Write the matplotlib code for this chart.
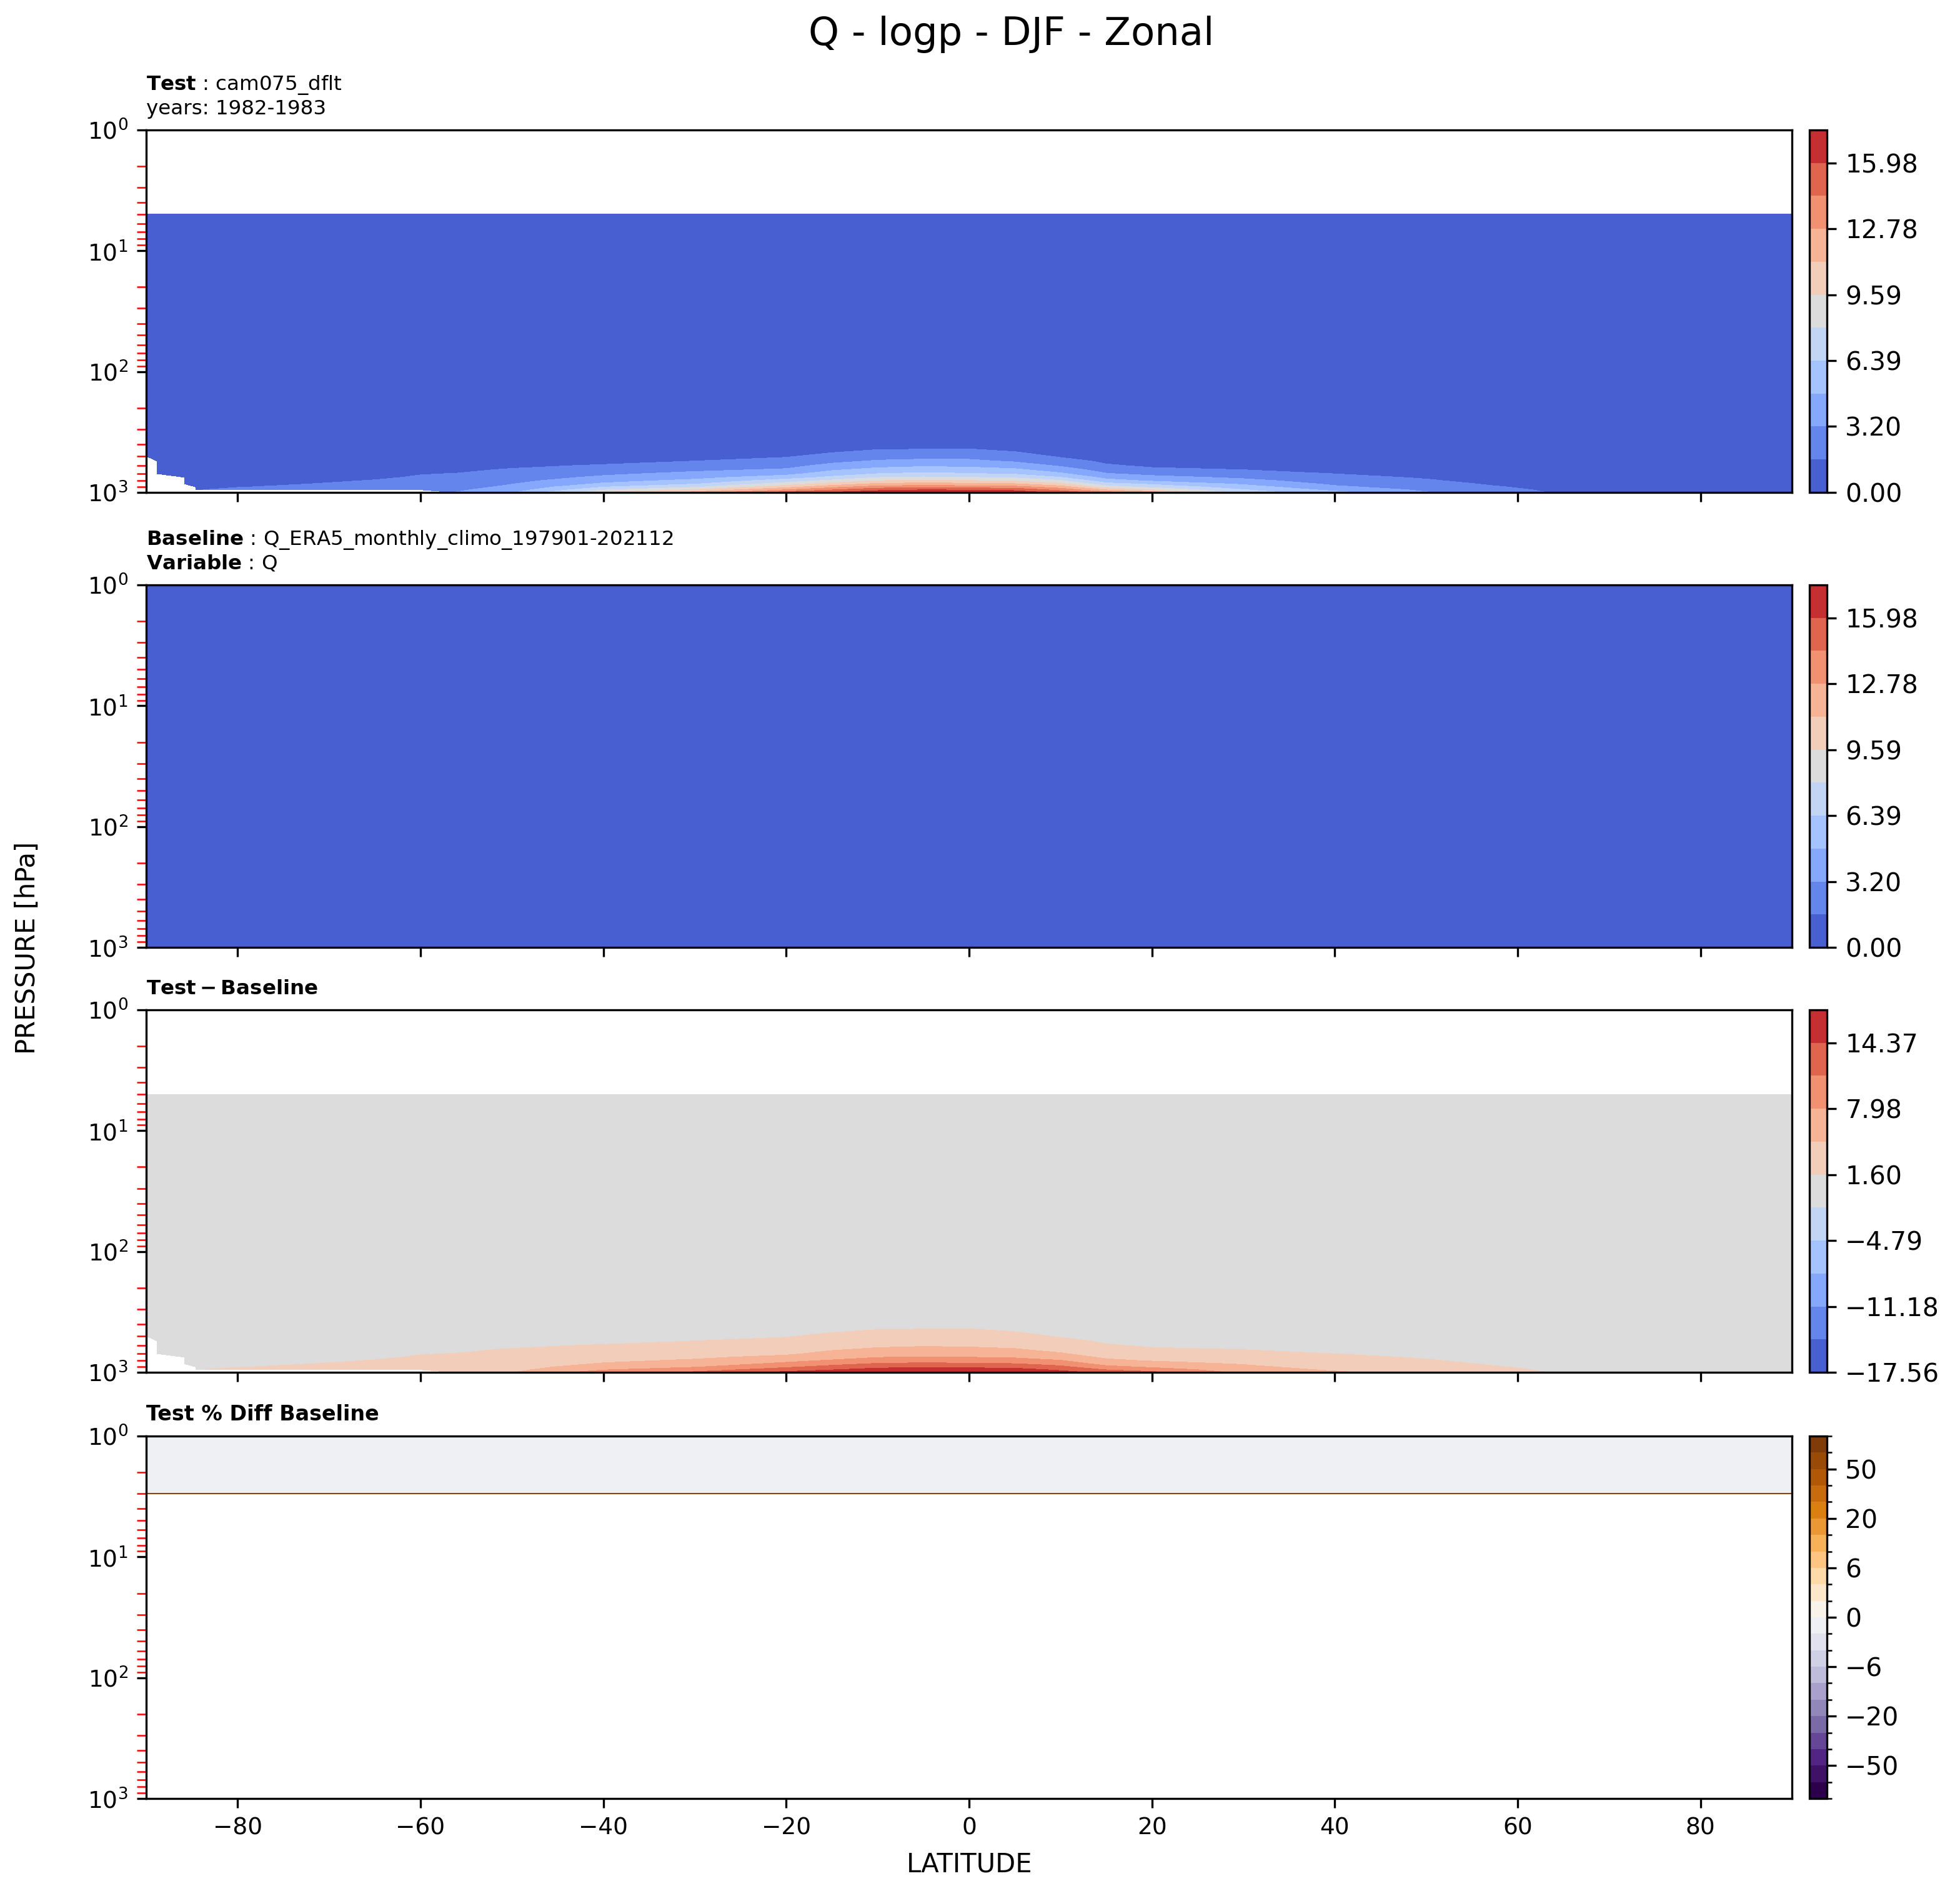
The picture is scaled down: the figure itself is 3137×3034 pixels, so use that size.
import numpy as np
import matplotlib
matplotlib.use('Agg')
import matplotlib.pyplot as plt
from matplotlib.colors import BoundaryNorm

nan = np.nan

# ---- data ----
lats = [-90, -88.8, -85.8, -84.6, -80, -72, -65, -60, -56.2, -50, -40, -30, -20,
        -15, -10, -5, 0, 5, 10, 15, 20, 30, 40, 50, 57, 63, 70, 80, 90]

lev_upper = [1, 2, 3, 5, 7, 10, 20, 30, 50, 70, 100, 150]
lev_lower = [200, 300, 400, 450, 500, 550, 600, 650, 700, 750, 800, 850, 900, 950, 1000]

# test Q (g/kg) above 200 hPa, same at every latitude; missing above 5 hPa
test_upper = [nan, nan, nan, 0.0028, 0.0027, 0.0026, 0.0025, 0.0024, 0.0023, 0.0022, 0.0025, 0.004]

# test Q (g/kg) on lev_lower, one row per latitude (nan = below ground)
test_lower = [
    [0.008, 0.03, 0.12, 0.2, 0.3, nan, nan, nan, nan, nan, nan, nan, nan, nan, nan],
    [0.008, 0.03, 0.13, 0.21, 0.32, 0.4, 0.5, 0.6, 0.7, nan, nan, nan, nan, nan, nan],
    [0.009, 0.035, 0.15, 0.24, 0.35, 0.45, 0.56, 0.68, 0.8, 0.9, 1.0, 1.1, nan, nan, nan],
    [0.01, 0.035, 0.17, 0.26, 0.38, 0.48, 0.6, 0.72, 0.85, 0.97, 1.1, 1.25, 1.4, 1.55, nan],
    [0.01, 0.04, 0.2, 0.3, 0.4, 0.52, 0.65, 0.8, 0.92, 1.05, 1.2, 1.35, 1.55, 1.8, nan],
    [0.01, 0.05, 0.22, 0.35, 0.48, 0.62, 0.8, 0.95, 1.1, 1.25, 1.42, 1.6, 1.8, 2.0, nan],
    [0.015, 0.06, 0.26, 0.4, 0.55, 0.7, 0.9, 1.1, 1.3, 1.45, 1.65, 1.85, 2.05, 2.3, nan],
    [0.02, 0.07, 0.3, 0.45, 0.65, 0.85, 1.1, 1.3, 1.55, 1.7, 1.9, 2.15, 2.45, 2.7, nan],
    [0.02, 0.08, 0.35, 0.5, 0.7, 0.9, 1.15, 1.4, 1.62, 1.8, 2.05, 2.3, 2.6, 2.9, 3.25],
    [0.02, 0.1, 0.4, 0.6, 0.85, 1.1, 1.4, 1.7, 2.05, 2.4, 2.75, 3.15, 3.5, 4.0, 4.6],
    [0.03, 0.15, 0.5, 0.75, 1.0, 1.3, 1.7, 2.3, 2.9, 3.5, 4.24, 5.05, 6.3, 7.75, 9.8],
    [0.03, 0.2, 0.6, 0.9, 1.2, 1.6, 2.2, 2.9, 3.6, 4.3, 5.2, 6.3, 7.7, 9.7, 11.7],
    [0.04, 0.25, 0.75, 1.1, 1.45, 2.05, 2.7, 3.4, 4.3, 5.6, 7.2, 8.7, 10.6, 12.7, 15.2],
    [0.05, 0.3, 0.85, 1.35, 2.0, 2.8, 3.65, 4.6, 5.6, 6.7, 8.35, 10.2, 12.2, 14.2, 16.1],
    [0.05, 0.33, 1.0, 1.7, 2.5, 3.35, 4.3, 5.3, 6.4, 7.9, 9.6, 11.5, 13.5, 15.5, 17.0],
    [0.05, 0.35, 1.0, 1.77, 2.64, 3.56, 4.56, 5.6, 6.7, 8.2, 9.9, 11.8, 13.8, 15.9, 17.4],
    [0.05, 0.37, 1.05, 1.8, 2.65, 3.5, 4.45, 5.45, 6.5, 8.0, 9.7, 11.6, 13.6, 15.8, 17.3],
    [0.05, 0.33, 0.95, 1.45, 2.2, 3.0, 4.05, 5.1, 6.2, 7.65, 9.35, 11.3, 13.3, 15.5, 17.0],
    [0.04, 0.25, 0.7, 1.0, 1.4, 2.1, 3.0, 4.0, 5.05, 6.4, 8.2, 9.95, 11.9, 13.8, 15.5],
    [0.03, 0.17, 0.5, 0.75, 1.0, 1.35, 1.75, 2.55, 3.3, 4.3, 5.4, 6.9, 8.75, 11.0, 13.5],
    [0.02, 0.13, 0.4, 0.6, 0.8, 1.05, 1.4, 1.85, 2.75, 3.66, 4.58, 6.1, 7.45, 9.45, 12.0],
    [0.02, 0.1, 0.38, 0.55, 0.75, 1.0, 1.3, 1.6, 2.25, 2.9, 3.65, 4.55, 5.5, 6.45, 7.2],
    [0.015, 0.08, 0.3, 0.45, 0.62, 0.82, 1.05, 1.3, 1.58, 2.0, 2.45, 2.9, 3.45, 4.3, 5.3],
    [0.012, 0.06, 0.24, 0.35, 0.48, 0.62, 0.8, 0.98, 1.2, 1.45, 1.75, 2.15, 2.5, 2.9, 3.3],
    [0.01, 0.04, 0.17, 0.25, 0.33, 0.43, 0.55, 0.68, 0.82, 1.0, 1.2, 1.45, 1.75, 2.05, 2.3],
    [0.008, 0.03, 0.12, 0.18, 0.25, 0.32, 0.41, 0.5, 0.62, 0.74, 0.88, 1.05, 1.25, 1.45, 1.62],
    [0.006, 0.02, 0.08, 0.12, 0.17, 0.22, 0.28, 0.34, 0.42, 0.5, 0.6, 0.7, 0.83, 0.97, 1.1],
    [0.005, 0.015, 0.06, 0.09, 0.12, 0.16, 0.2, 0.25, 0.3, 0.36, 0.42, 0.5, 0.58, 0.65, 0.72],
    [0.004, 0.012, 0.05, 0.07, 0.1, 0.13, 0.16, 0.2, 0.24, 0.28, 0.33, 0.38, 0.43, 0.48, 0.52],
]

# baseline Q (kg/kg, not converted), one value per level for all latitudes
base_profile = [2.6e-6, 2.6e-6, 2.6e-6, 2.6e-6, 2.5e-6, 2.5e-6, 2.4e-6, 2.4e-6, 2.3e-6,
                2.3e-6, 2.6e-6, 5e-6, 2e-5, 1e-4, 3.5e-4, 5.5e-4, 8e-4, 1.1e-3, 1.5e-3,
                1.9e-3, 2.4e-3, 3.0e-3, 3.7e-3, 4.6e-3, 5.6e-3, 6.8e-3, 8.0e-3]

# percent difference where only the upper levels (1-3 hPa) are in range
pct_upper = [-1.0, -1.0, -1.0]

q_levels = [0.0, 1.598, 3.196, 4.793, 6.391, 7.989, 9.587, 11.185, 12.782, 14.38, 15.978, 17.576]
diff_levels = [-17.563, -14.37, -11.176, -7.983, -4.79, -1.597, 1.597, 4.79, 7.983, 11.176, 14.37, 17.563]
pct_levels = [-100, -75, -50, -40, -30, -20, -15, -10, -6, -4, -2, 0,
              2, 4, 6, 10, 15, 20, 30, 40, 50, 75, 100]
pct_ticks = [-50, -20, -6, 0, 6, 20, 50]
lat_ticks = [-80, -60, -40, -20, 0, 20, 40, 60, 80]

# ---- fields ----
lat = np.array(lats)
lev = np.array(lev_upper + lev_lower, dtype=float)
test = np.hstack([np.tile(test_upper, (len(lats), 1)), np.array(test_lower)])
base = np.tile(base_profile, (len(lats), 1))
diff = test - base
pct = (test - base) / base * 100.0
pct[:, :len(pct_upper)] = pct_upper


def fmt2(v):
    return f'{v:.2f}'.replace('-', '\u2212')


fig = plt.figure(figsize=(3137 / 300, 3034 / 300))

panels = [
    (0.7403, test, q_levels, 'coolwarm', None,
     r'$\bf{Test}$ : cam075_dflt' + '\nyears: 1982-1983'),
    (0.5003, base, q_levels, 'coolwarm', None,
     r'$\bf{Baseline}$ : Q_ERA5_monthly_climo_197901-202112' + '\n' + r'$\bf{Variable}$ : Q'),
    (0.2762, diff, diff_levels, 'coolwarm', None, r'$\bf{Test - Baseline}$'),
    (0.0514, pct, pct_levels, 'PuOr_r', BoundaryNorm(pct_levels, 256), 'Test % Diff Baseline'),
]

for i, (y0, field, levels, cmap, norm, title) in enumerate(panels):
    ax = fig.add_axes([0.07459, y0, 0.83966, 0.1912])
    cf = ax.contourf(lat, lev, field.T, levels=levels, cmap=cmap, norm=norm)
    if i == 3:
        ax.contour(lat, lev, field.T, levels=[pct_levels[-1]], colors=['#8a4310'],
                   linewidths=0.5)
        ax.set_title(title, loc='left', fontsize=8, fontweight='bold')
    else:
        ax.set_title(title, loc='left', fontsize=7.8)
    ax.set_yscale('log')
    ax.set_ylim(1000, 1)
    ax.set_xlim(-90, 90)
    ax.set_xticks(lat_ticks)
    ax.tick_params(labelsize=9)
    ax.tick_params(axis='y', which='minor', color='red', length=3.5, width=0.6)
    if i < 3:
        ax.tick_params(labelbottom=False)

    cax = fig.add_axes([0.92317, y0, 0.00893, 0.1912])
    cbar = fig.colorbar(cf, cax=cax)
    if i < 3:
        cbar.set_ticks(levels[::2], labels=[fmt2(v) for v in levels[::2]])
    else:
        cbar.set_ticks(pct_ticks, labels=[str(v).replace('-', '\u2212') for v in pct_ticks])
        cax.yaxis.set_ticks(pct_levels, minor=True)
    cax.tick_params(labelsize=9.8)

fig.text(0.516, 0.982, 'Q - logp - DJF - Zonal', ha='center', va='center', fontsize=15)
fig.text(0.014, 0.5, 'PRESSURE [hPa]', rotation=90, ha='center', va='center', fontsize=10)
fig.text(0.4945, 0.0165, 'LATITUDE', ha='center', va='center', fontsize=10)

fig.savefig('out.png', dpi=300)
